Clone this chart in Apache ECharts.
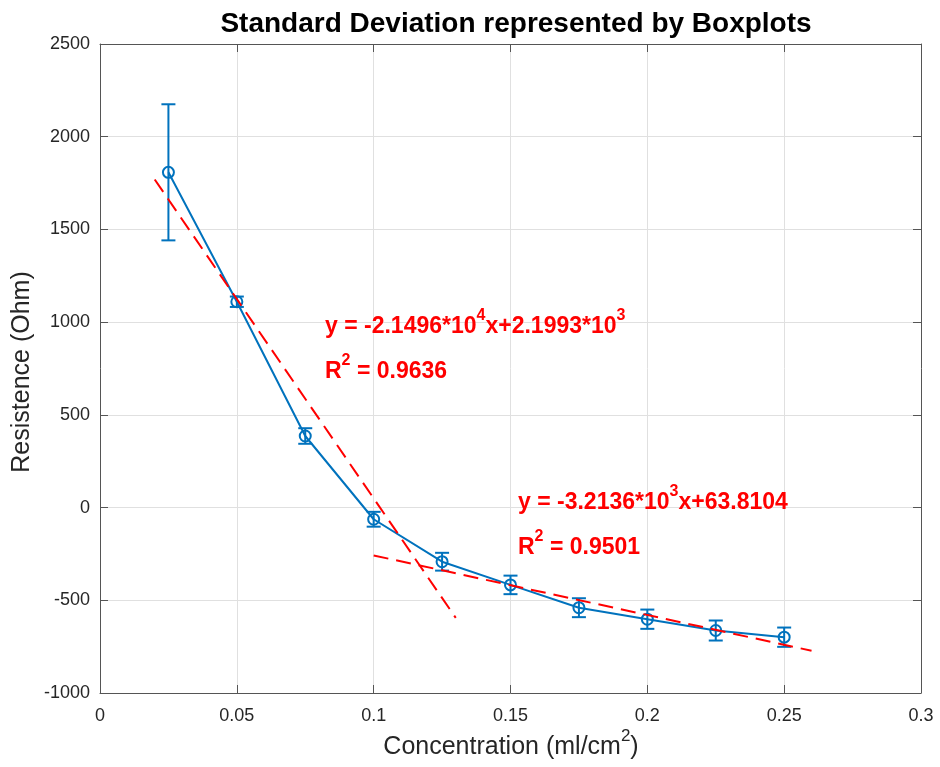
<!DOCTYPE html>
<html>
<head>
<meta charset="utf-8">
<script src="https://cdn.jsdelivr.net/npm/echarts@6/dist/echarts.min.js"></script>
<style>html,body{margin:0;padding:0;background:#fff}#c{width:940px;height:767px}</style>
</head>
<body>
<div id="c"></div>
<script>
// ---- data ----
const conc = [0.025, 0.05, 0.075, 0.1, 0.125, 0.15, 0.175, 0.2, 0.225, 0.25];
const meanR = [1808, 1110, 386, -63, -292, -417, -540, -602, -663, -699];
const stdR = [367, 28, 42, 40, 48, 50, 51, 52, 54, 52];
const fit1X = [0.02, 0.13];
const fit1Y = [1769, -595];
const fit2X = [0.1, 0.26];
const fit2Y = [-258, -772];
const xTicks = {min: 0, max: 0.3, interval: 0.05};
const yTicks = {min: -1000, max: 2500, interval: 500};

const BLUE = '#0072BD', RED = '#FF0000', AX = '#262626';
const FONT = '"Liberation Sans", Arial, Helvetica, sans-serif';

const chart = echarts.init(document.getElementById('c'), null, {renderer: 'canvas'});
const errData = conc.map((c, i) => [c, meanR[i] - stdR[i], meanR[i] + stdR[i]]);
const meanData = conc.map((c, i) => [c, meanR[i]]);
const f1 = fit1X.map((x, i) => [x, fit1Y[i]]);
const f2 = fit2X.map((x, i) => [x, fit2Y[i]]);

const richMain = {
  b: {fontSize: 23, fontWeight: 'bold', fill: RED, fontFamily: FONT, lineHeight: 38},
  s: {fontSize: 16, fontWeight: 'bold', fill: RED, fontFamily: FONT, verticalAlign: 'top', lineHeight: 16}
};

function baseX(pos, main) {
  return {
    type: 'value', position: pos, min: xTicks.min, max: xTicks.max, interval: xTicks.interval,
    axisLine: {show: true, onZero: false, lineStyle: {color: '#555', width: 1}},
    axisTick: {show: true, inside: true, length: 8, lineStyle: {color: '#555'}},
    axisLabel: {show: main, color: AX, fontSize: 18, fontFamily: FONT, margin: 14,
      formatter: v => String(+v.toFixed(3))},
    splitLine: {show: main, lineStyle: {color: '#E0E0E0', width: 1}}
  };
}
function baseY(pos, main) {
  return {
    type: 'value', position: pos, min: yTicks.min, max: yTicks.max, interval: yTicks.interval,
    axisLine: {show: true, onZero: false, lineStyle: {color: '#555', width: 1}},
    axisTick: {show: true, inside: true, length: 8, lineStyle: {color: '#555'}},
    axisLabel: {show: main, color: AX, fontSize: 18, fontFamily: FONT, margin: 10,
      formatter: v => String(v)},
    splitLine: {show: main, lineStyle: {color: '#E0E0E0', width: 1}}
  };
}

chart.setOption({
  animation: false,
  backgroundColor: '#fff',
  title: {
    text: 'Standard Deviation represented by Boxplots',
    left: 511, top: 5, textAlign: 'center',
    textStyle: {fontSize: 28, fontWeight: 'bold', color: '#000', fontFamily: FONT}
  },
  grid: {left: 100, right: 19, top: 44, bottom: 74, containLabel: false},
  xAxis: [baseX('bottom', true), baseX('top', false)],
  yAxis: [baseY('left', true), baseY('right', false)],
  series: [
    {
      type: 'custom', name: 'err', xAxisIndex: 0, yAxisIndex: 0, z: 3,
      data: errData,
      renderItem: function (params, api) {
        const x = api.value(0);
        const lo = api.coord([x, api.value(1)]);
        const hi = api.coord([x, api.value(2)]);
        const w = 7;
        const st = {stroke: BLUE, lineWidth: 2};
        return {type: 'group', children: [
          {type: 'line', shape: {x1: lo[0], y1: lo[1], x2: hi[0], y2: hi[1]}, style: st},
          {type: 'line', shape: {x1: lo[0] - w, y1: lo[1], x2: lo[0] + w, y2: lo[1]}, style: st},
          {type: 'line', shape: {x1: hi[0] - w, y1: hi[1], x2: hi[0] + w, y2: hi[1]}, style: st}
        ]};
      }
    },
    {
      type: 'line', name: 'mean', data: meanData, z: 4,
      symbol: 'circle', symbolSize: 11, showSymbol: true,
      itemStyle: {color: 'rgba(0,0,0,0)', borderColor: BLUE, borderWidth: 2},
      lineStyle: {color: BLUE, width: 2}
    },
    {
      type: 'line', name: 'fit1', data: f1, z: 5, symbol: 'none',
      lineStyle: {color: RED, width: 2, type: [15, 8]}
    },
    {
      type: 'line', name: 'fit2', data: f2, z: 5, symbol: 'none',
      lineStyle: {color: RED, width: 2, type: [15, 8]}
    }
  ],
  graphic: [
    {type: 'text', left: 325, top: 308, z: 10,
     style: {text: '{b|y = -2.1496*10}{s|4}{b|x+2.1993*10}{s|3}', rich: richMain}},
    {type: 'text', left: 325, top: 353, z: 10,
     style: {text: '{b|R}{s|2}{b| = 0.9636}', rich: richMain}},
    {type: 'text', left: 518, top: 484, z: 10,
     style: {text: '{b|y = -3.2136*10}{s|3}{b|x+63.8104}', rich: richMain}},
    {type: 'text', left: 518, top: 529, z: 10,
     style: {text: '{b|R}{s|2}{b| = 0.9501}', rich: richMain}},
    {type: 'text', x: 511, y: 747, z: 10,
     style: {text: '{a|Concentration (ml/cm}{s|2}{a|)}', align: 'center', verticalAlign: 'middle',
       rich: {
         a: {fontSize: 25, fill: AX, fontFamily: FONT, lineHeight: 38},
         s: {fontSize: 17, fill: AX, fontFamily: FONT, verticalAlign: 'top', lineHeight: 17}
       }}},
    {type: 'text', x: 22, y: 372, rotation: Math.PI / 2, z: 10,
     style: {text: 'Resistence (Ohm)', align: 'center', verticalAlign: 'middle',
       fontSize: 25, fill: AX, fontFamily: FONT}}
  ]
});
</script>
</body>
</html>
